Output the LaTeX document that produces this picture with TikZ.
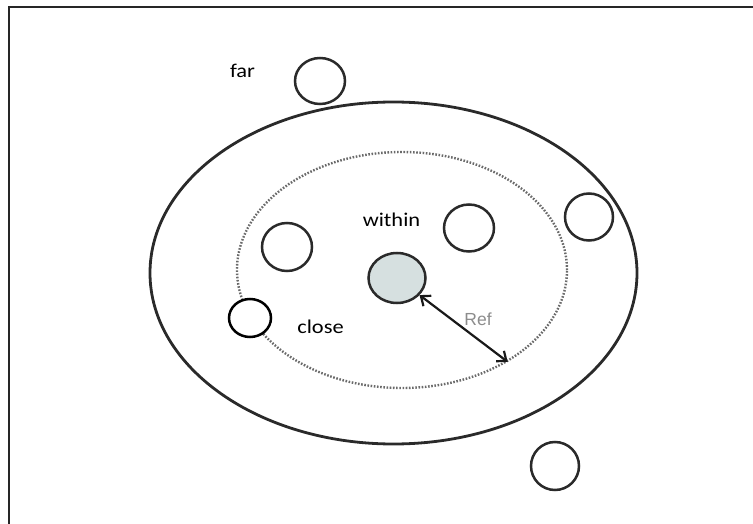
\documentclass[tikz,border=0pt]{standalone}
\usepackage{fontspec}
\setmainfont{Carlito}
\newfontfamily\reffont{Liberation Sans}
\usetikzlibrary{shapes.geometric,arrows.meta}
\definecolor{refgray}{HTML}{8C8C8C}
\definecolor{corefill}{HTML}{D6E0E0}
\definecolor{ringcol}{HTML}{2A2A2A}
\definecolor{dotcol}{HTML}{6A6A6A}
\begin{document}
\begin{tikzpicture}[x=1pt,y=-1pt,
  ring/.style={draw=ringcol, line width=2.5pt, ellipse, inner sep=0pt, fill=white},
  lbl/.style={font=\fontsize{19.5}{20}\selectfont, inner sep=0pt, anchor=base}]
\useasboundingbox (0,0) rectangle (753,524);
\draw[line width=2.5pt, black!85] (9,524) -- (9,7) -- (753,7);
% outer and inner zones
\node[ellipse, draw=ringcol, line width=2.8pt, minimum width=487pt, minimum height=342pt, inner sep=0pt] (outer) at (393.5,273) {};
\node[ellipse, draw=dotcol, line width=2.4pt, dash pattern=on 1.6pt off 1.6pt, minimum width=330pt, minimum height=236pt, inner sep=0pt] (inner) at (402,270) {};
% circles
\node[ring, minimum width=50pt, minimum height=46pt] (farc) at (320,81) {};
\node[ring, minimum width=48pt, minimum height=47pt] (edgec) at (589,217) {};
\node[ring, minimum width=50pt, minimum height=47pt] (inc1) at (469,228) {};
\node[ring, minimum width=50pt, minimum height=48pt] (inc2) at (287,247) {};
\node[ring, draw=black, minimum width=42pt, minimum height=38pt] (closec) at (250,318) {};
\node[ring, minimum width=48pt, minimum height=48pt] (outc) at (555,466) {};
\node[ring, fill=corefill, minimum width=57pt, minimum height=50pt] (ref) at (397,278) {};
% radius arrow
\draw[line width=2.2pt, black!90, {Straight Barb[length=8pt,width=13pt]}-{Straight Barb[length=8pt,width=13pt]}] (ref) -- (inner.-41);
% labels
\node[lbl] (tfar) at (242.5,78) {\scalebox{1.15}[1]{far}};
\node[lbl] (twithin) at (391.5,226) {\scalebox{1.15}[1]{within}};
\node[lbl] (tclose) at (320.5,333) {\scalebox{1.15}[1]{close}};
\node[anchor=base, inner sep=0pt, text=refgray, font=\reffont\fontsize{17.5}{18}\selectfont] (tref) at (478,325) {Ref};
\end{tikzpicture}
\end{document}
